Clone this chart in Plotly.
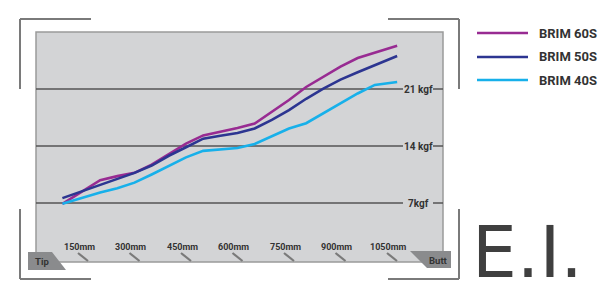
import plotly.graph_objects as go

W, H = 603, 302

# ---- data ----
length_mm = [90, 150, 200, 250, 300, 350, 400, 450, 500, 550, 600, 650, 700,
             750, 800, 850, 900, 950, 1000, 1065]
brim_60s = [6.9, 8.45, 9.8, 10.3, 10.7, 11.7, 13.0, 14.3, 15.3, 15.75, 16.2,
            16.75, 18.15, 19.65, 21.25, 22.5, 23.75, 24.8, 25.45, 26.3]
brim_50s = [7.6, 8.5, 9.25, 10.0, 10.7, 11.6, 12.8, 13.85, 14.9, 15.25, 15.6,
            16.15, 17.2, 18.4, 19.8, 21.05, 22.15, 23.05, 23.9, 25.05]
brim_40s = [6.9, 7.65, 8.3, 8.8, 9.5, 10.5, 11.6, 12.6, 13.4, 13.55, 13.75,
            14.25, 15.2, 16.15, 16.8, 18.0, 19.2, 20.45, 21.5, 21.85]
series_names = ["BRIM 60S", "BRIM 50S", "BRIM 40S"]
series_colors = ["#982b92", "#2c3591", "#17b0ea"]
x_ticks = [150, 300, 450, 600, 750, 900, 1050]
x_tick_labels = ["150mm", "300mm", "450mm", "600mm", "750mm", "900mm", "1050mm"]
y_ticks = [7, 14, 21]
y_tick_labels = ["7kgf", "14 kgf", "21 kgf"]

# ---- scale (pixel calibration) ----
MM_PER_PX = 150 / 51.5
X0 = 150 - 83 * MM_PER_PX
X1 = 150 + (W - 83) * MM_PER_PX
KGF_PER_PX = 7 / 57
Y_TOP = 7 + 203 * KGF_PER_PX
Y_BOT = 7 - (H - 203) * KGF_PER_PX


def px(x):
    return x / W


def py(y):
    return 1 - y / H


FONT = "Roboto, Liberation Sans, sans-serif"
TXT = "#333333"

fig = go.Figure()
for name, vals, col in zip(series_names, [brim_60s, brim_50s, brim_40s], series_colors):
    fig.add_trace(go.Scatter(x=length_mm, y=vals, mode="lines", name=name,
                             line=dict(color=col, width=2.6), showlegend=False))

shapes = []
# gray panel
shapes.append(dict(type="rect", xref="paper", yref="paper", x0=px(36), x1=px(443),
                   y0=py(262), y1=py(32), fillcolor="#d3d4d6",
                   line=dict(color="#9a9a9a", width=1.5), layer="below"))
# gridlines
for v in y_ticks:
    shapes.append(dict(type="line", xref="paper", yref="y", x0=px(36), x1=px(403),
                       y0=v, y1=v, line=dict(color="#555555", width=1.5), layer="below"))
    shapes.append(dict(type="line", xref="paper", yref="y", x0=px(433), x1=px(443),
                       y0=v, y1=v, line=dict(color="#555555", width=1.5), layer="below"))
# corner brackets
bc = dict(color="#7a7a7a", width=2)
for (xa, ya, xb, yb) in [(20, 19, 91, 19), (20, 19, 20, 89), (388, 19, 459, 19), (459, 19, 459, 89),
                         (20, 209, 20, 279), (20, 279, 91, 279), (459, 209, 459, 279), (388, 279, 459, 279)]:
    shapes.append(dict(type="line", xref="paper", yref="paper", x0=px(xa), x1=px(xb),
                       y0=py(ya), y1=py(yb), line=bc))
# tick slashes
for t in x_ticks:
    shapes.append(dict(type="line", xref="x", yref="paper", x0=t - 5 * MM_PER_PX, x1=t + 5 * MM_PER_PX,
                       y0=py(253), y1=py(261), line=dict(color="#7a7a7a", width=2.2)))


# Tip / Butt tabs
def poly(pts):
    return "M " + " L ".join(f"{px(a)},{py(b)}" for a, b in pts) + " Z"


shapes.append(dict(type="path", xref="paper", yref="paper",
                   path=poly([(28, 252), (52, 252), (66, 270), (28, 270)]),
                   fillcolor="#8a8b8d", line=dict(width=0)))
shapes.append(dict(type="path", xref="paper", yref="paper",
                   path=poly([(410, 251), (451, 251), (451, 268), (427, 268)]),
                   fillcolor="#8a8b8d", line=dict(width=0)))
# legend lines
legend_y = [33, 57, 80]
for yy, col in zip(legend_y, series_colors):
    shapes.append(dict(type="line", xref="paper", yref="paper", x0=px(477), x1=px(528),
                       y0=py(yy), y1=py(yy), line=dict(color=col, width=2.6)))

ann = []
for t, lab in zip(x_ticks, x_tick_labels):
    ann.append(dict(x=t, y=py(247), xref="x", yref="paper", text=lab, showarrow=False,
                    xanchor="center", yanchor="middle", xshift=-4,
                    font=dict(family=FONT, size=9, color=TXT, weight="bold")))
for v, lab in zip(y_ticks, y_tick_labels):
    ann.append(dict(x=px(419), y=v, xref="paper", yref="y", text=lab, showarrow=False,
                    xanchor="center", yanchor="middle",
                    font=dict(family=FONT, size=10, color=TXT, weight="bold")))
ann.append(dict(x=px(42), y=py(261), xref="paper", yref="paper", text="Tip", showarrow=False,
                xanchor="center", yanchor="middle",
                font=dict(family=FONT, size=9.5, color=TXT, weight="bold")))
ann.append(dict(x=px(438), y=py(260), xref="paper", yref="paper", text="Butt", showarrow=False,
                xanchor="center", yanchor="middle",
                font=dict(family=FONT, size=9.5, color=TXT, weight="bold")))
for yy, name in zip(legend_y, series_names):
    ann.append(dict(x=px(537), y=py(yy), xref="paper", yref="paper", text=name, showarrow=False,
                    xanchor="left", yanchor="middle",
                    font=dict(family=FONT, size=13, color=TXT, weight="bold")))
ann.append(dict(x=px(470), y=py(252), xref="paper", yref="paper", text="E.I.", showarrow=False,
                xanchor="left", yanchor="middle",
                font=dict(family="DejaVu Sans", size=71, color="#3f3f3f")))

fig.update_layout(
    width=W, height=H, margin=dict(l=0, r=0, t=0, b=0),
    paper_bgcolor="white", plot_bgcolor="rgba(0,0,0,0)",
    xaxis=dict(range=[X0, X1], visible=False, fixedrange=True),
    yaxis=dict(range=[Y_BOT, Y_TOP], visible=False, fixedrange=True),
    shapes=shapes, annotations=ann, showlegend=False,
)
fig.write_html("out.html")
